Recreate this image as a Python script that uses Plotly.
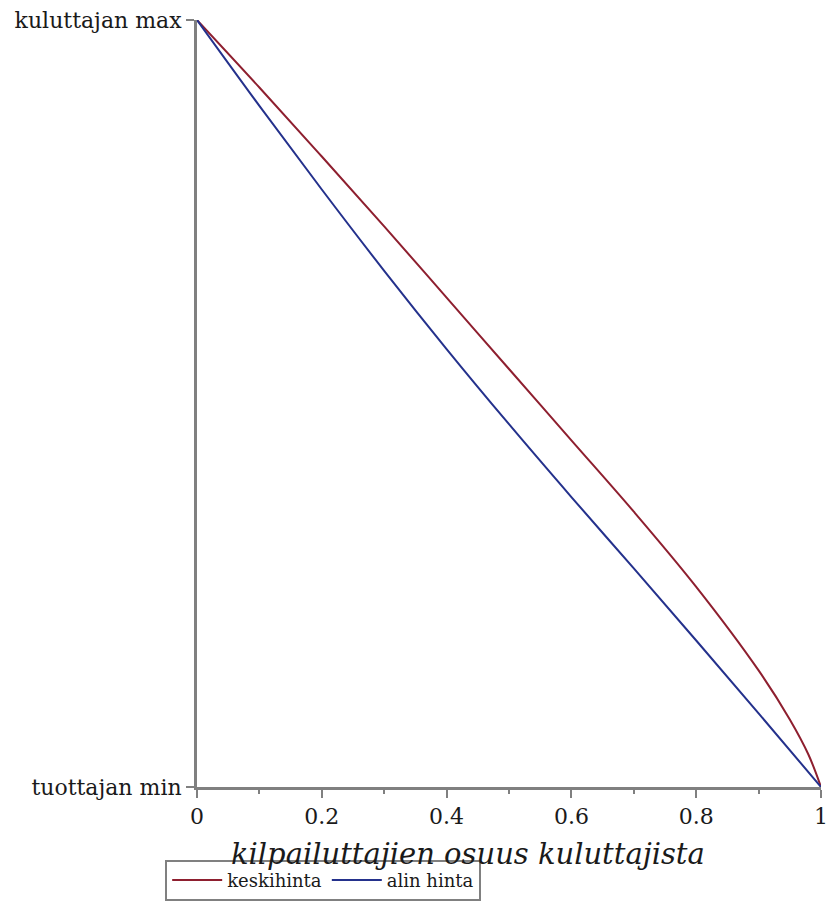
import plotly.graph_objects as go

# Data (x = share of competitive consumers, y normalised price)
x_red = [0, 0.1, 0.2, 0.3, 0.4, 0.5, 0.6, 0.7, 0.8, 0.9, 0.95, 0.98, 1.0]
y_red = [1.0, 0.912, 0.822, 0.731, 0.638, 0.545, 0.452, 0.359, 0.261, 0.152, 0.088, 0.042, 0.0]
x_blue = [0, 0.1, 0.2, 0.3, 0.4, 0.5, 0.6, 0.7, 0.8, 0.9, 1.0]
y_blue = [1.0, 0.888, 0.779, 0.673, 0.571, 0.473, 0.378, 0.285, 0.191, 0.096, 0.0]

series_names = ["keskihinta", "alin hinta"]
x_ticks = [0, 0.2, 0.4, 0.6, 0.8, 1]
x_ticktext = ["0", "0.2", "0.4", "0.6", "0.8", "1"]
x_minor_ticks = [0.1, 0.3, 0.5, 0.7, 0.9]
y_ticks = [0, 1]
y_ticktext = ["tuottajan min", "kuluttajan max"]
x_title = "kilpailuttajien osuus kuluttajista"

FONT = "DejaVu Serif"
RED = "#8E1F2F"
BLUE = "#24318C"
AXIS = "#808080"
TXT = "#1a1a1a"

fig = go.Figure()
fig.add_trace(go.Scatter(x=x_red, y=y_red, mode="lines", name=series_names[0],
                         line=dict(color=RED, width=2, shape="spline", smoothing=1.0)))
fig.add_trace(go.Scatter(x=x_blue, y=y_blue, mode="lines", name=series_names[1],
                         line=dict(color=BLUE, width=2, shape="spline", smoothing=1.0)))

fig.update_layout(
    width=830, height=920,
    margin=dict(l=197, r=9, t=20, b=133),
    paper_bgcolor="white", plot_bgcolor="white",
    font=dict(family=FONT, size=20, color=TXT),
    showlegend=True,
    legend=dict(orientation="h", x=-0.051, y=-0.095, xanchor="left", yanchor="top",
                bordercolor=AXIS, borderwidth=2, font=dict(family=FONT, size=18, color=TXT),
                itemwidth=50, tracegroupgap=0),
    xaxis=dict(range=[0, 1], showgrid=False, zeroline=False, showline=True,
               automargin=False, ticklabeloverflow="allow",
               linecolor=AXIS, linewidth=3, tickvals=x_ticks, ticktext=x_ticktext,
               ticks="outside", ticklen=8, tickwidth=2, tickcolor=AXIS,
               minor=dict(tickvals=x_minor_ticks, ticks="outside",
                          ticklen=4, tickwidth=2, tickcolor=AXIS),
               tickfont=dict(family=FONT, size=22, color=TXT)),
    yaxis=dict(range=[0, 1], showgrid=False, zeroline=False, showline=True,
               automargin=False,
               linecolor=AXIS, linewidth=3, tickvals=y_ticks, ticktext=y_ticktext,
               ticks="outside", ticklen=8, tickwidth=2, tickcolor=AXIS,
               tickfont=dict(family=FONT, size=22, color=TXT)),
    annotations=[dict(text="<i>" + x_title + "</i>", xref="paper", yref="paper",
                      x=0.435, y=-0.087, xanchor="center", yanchor="middle",
                      showarrow=False, font=dict(family=FONT, size=29, color=TXT))],
)

fig.write_html("out.html", config={"displayModeBar": False},
               post_script="document.body.style.margin='0';document.body.style.overflow='hidden';")
